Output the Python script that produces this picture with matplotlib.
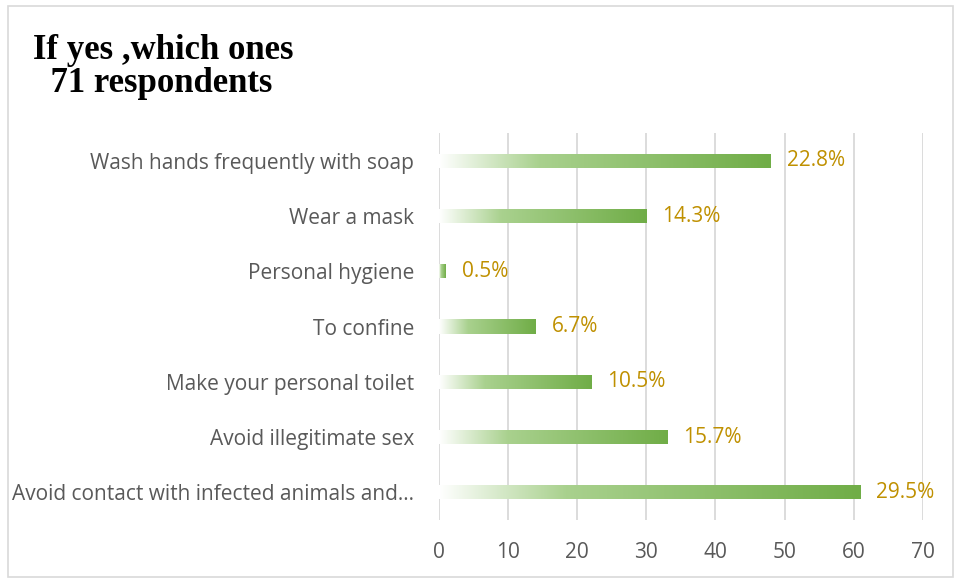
import numpy as np
import matplotlib.pyplot as plt
from matplotlib.colors import LinearSegmentedColormap
from matplotlib.patches import Rectangle

categories = [
    "Wash hands frequently with soap",
    "Wear a mask",
    "Personal hygiene",
    "To confine",
    "Make your personal toilet",
    "Avoid illegitimate sex",
    "Avoid contact with infected animals and\u2026",
]
counts = [48, 30, 1, 14, 22, 33, 61]
pct_labels = ["22.8%", "14.3%", "0.5%", "6.7%", "10.5%", "15.7%", "29.5%"]

fig = plt.figure(figsize=(9.57, 5.79), dpi=100)
ax = fig.add_axes([0.4587, 0.102, 0.5055, 0.668])

# white -> light green -> green fill along each bar
cmap = LinearSegmentedColormap.from_list(
    "bargrad", [(0.0, "#ffffff"), (0.3, "#a9d18e"), (1.0, "#70ad47")])
grad = np.linspace(0, 1, 256).reshape(1, -1)

bar_h = 0.26
n = len(categories)
ys = np.arange(n)[::-1]
for y, v, lab in zip(ys, counts, pct_labels):
    im = ax.imshow(grad, cmap=cmap, aspect="auto",
                   extent=[0, v, y - bar_h / 2, y + bar_h / 2],
                   zorder=3, interpolation="bilinear")
    clip = Rectangle((0, y - bar_h / 2), v, bar_h, transform=ax.transData)
    im.set_clip_path(clip)
    ax.text(v + 2.3, y, lab, va="center", ha="left", fontsize=15,
            color="#bf9000", family="Open Sans")

ax.set_xlim(0, 70)
ax.set_ylim(-0.5, n - 0.5)
ax.set_xticks(range(0, 71, 10))
ax.set_yticks(ys)
ax.set_yticklabels(categories)
ax.grid(axis="x", color="#d9d9d9", linewidth=1.3, zorder=0)
ax.set_axisbelow(True)
for s in ax.spines.values():
    s.set_visible(False)
ax.tick_params(axis="both", length=0, labelsize=15, labelcolor="#595959")
ax.tick_params(axis="x", pad=16)
ax.tick_params(axis="y", pad=18)
for t in ax.get_xticklabels() + ax.get_yticklabels():
    t.set_family("Open Sans")

fig.text(0.034, 0.942, "If yes ,which ones\n  71 respondents", fontsize=25,
         fontweight="bold", family="Liberation Serif", va="top", ha="left",
         linespacing=1.02)

# thin outer frame
fig.patches.append(Rectangle((0.008, 0.004), 0.988, 0.985, transform=fig.transFigure,
                             fill=False, edgecolor="#d9d9d9", linewidth=1.2))

fig.savefig("out.png", dpi=100)
